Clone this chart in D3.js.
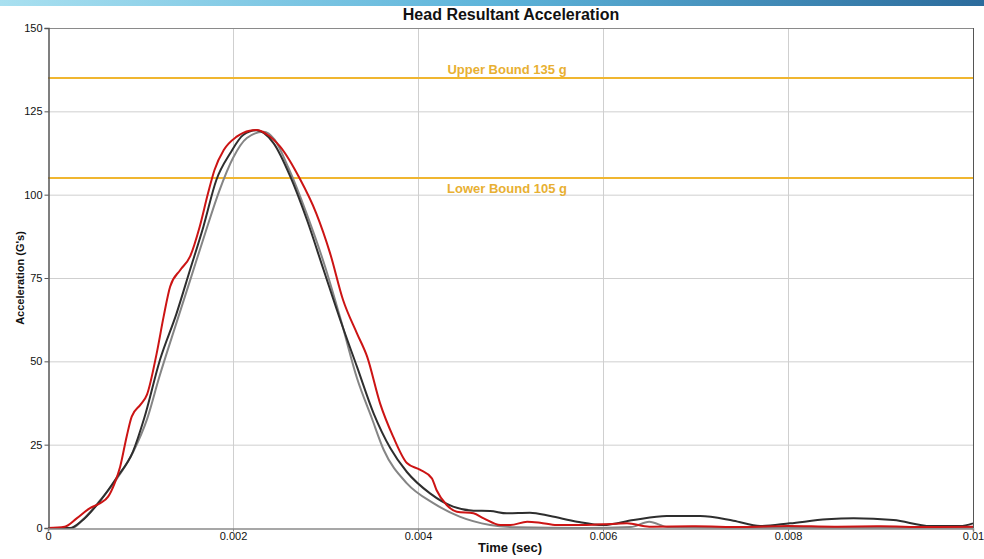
<!DOCTYPE html>
<html>
<head>
<meta charset="utf-8">
<script src="https://cdn.jsdelivr.net/npm/d3@7"></script>
<style>
  body { margin: 0; background: #fff; }
  svg { display: block; font-family: "Liberation Sans", Arial, sans-serif; }
</style>
</head>
<body>
<svg id="chart" width="984" height="559"></svg>
<script>
// time in ms, acceleration in g
const redT = [0, 0.18, 0.31, 0.45, 0.56, 0.65, 0.72, 0.78, 0.85, 0.905, 1.0, 1.07, 1.175, 1.25, 1.32, 1.43, 1.535, 1.64, 1.73, 1.8, 1.9, 2.04, 2.18, 2.26, 2.36, 2.51, 2.72, 2.9, 3.05, 3.19, 3.34, 3.45, 3.59, 3.73, 3.88, 4.02, 4.15, 4.2, 4.31, 4.42, 4.6, 4.71, 4.89, 5.0, 5.18, 5.32, 5.5, 5.79, 6.0, 6.26, 6.5, 7.0, 7.5, 8.0, 8.5, 9.0, 9.5, 10];
const redG = [0, 0.4, 2.9, 5.9, 7.4, 9.4, 13.4, 18.4, 27.4, 33.4, 37, 40, 52.4, 63.4, 72.4, 77.4, 81.4, 90.4, 100.4, 107.4, 113.4, 117.4, 119.2, 119.4, 118.2, 114.4, 104.9, 94.4, 82.4, 68.4, 58.4, 51.4, 37.4, 27.5, 19.5, 17.5, 14.9, 11.4, 6.9, 4.9, 4.4, 2.9, 0.9, 0.9, 1.9, 1.6, 0.9, 0.9, 1.1, 1.4, 0.4, 0.5, 0.3, 0.6, 0.4, 0.5, 0.3, 0.4];

const blackT = [0, 0.24, 0.36, 0.56, 0.74, 0.92, 1.04, 1.21, 1.39, 1.535, 1.68, 1.82, 1.97, 2.11, 2.25, 2.44, 2.62, 2.8, 2.98, 3.16, 3.34, 3.52, 3.7, 3.88, 4.13, 4.38, 4.6, 4.78, 4.96, 5.21, 5.43, 5.72, 6.0, 6.33, 6.69, 7.05, 7.41, 7.7, 8.02, 8.42, 8.71, 9.14, 9.54, 9.86, 10];
const blackG = [0, 0, 2.0, 8.0, 15, 23, 32.9, 50.4, 64.4, 77.4, 90.4, 104.4, 112.4, 117.9, 119.3, 115.4, 105.4, 92.4, 77.4, 62.4, 48.4, 34.4, 24.0, 16.8, 10.4, 6.4, 5.2, 5.1, 4.4, 4.6, 3.6, 1.9, 0.9, 2.4, 3.6, 3.6, 2.2, 0.6, 1.4, 2.6, 2.9, 2.4, 0.6, 0.6, 1.4];

const grayT = [0, 0.26, 0.38, 0.56, 0.74, 0.92, 1.07, 1.2, 1.4, 1.55, 1.7, 1.85, 2.0, 2.15, 2.33, 2.45, 2.6, 2.8, 3.0, 3.17, 3.34, 3.5, 3.63, 3.88, 4.17, 4.45, 4.78, 5.07, 5.8, 6.3, 6.5, 6.7, 7.5, 10];
const grayG = [0, 0, 2.6, 8.2, 14.6, 22.8, 32.6, 45, 62.5, 75.5, 88.5, 101, 111, 117, 118.9, 116.5, 108, 94, 78, 62, 45, 33, 23.4, 13.4, 7.4, 3.4, 0.9, 0.2, 0, 0.3, 1.9, 0.3, 0.1, 0.1];

const upperBound = 135;
const lowerBound = 105;
const xTicks = [0, 0.002, 0.004, 0.006, 0.008, 0.01];
const xTickLabels = ["0", "0.002", "0.004", "0.006", "0.008", "0.01"];
const yTicks = [0, 25, 50, 75, 100, 125, 150];

const svg = d3.select("#chart");
const mLeft = 48, mRight = 973, mTop = 28, mBottom = 528;

// top banner gradient
let grad = svg.append("defs").append("linearGradient").attr("id", "banner");
grad.append("stop").attr("offset", "0%").attr("stop-color", "#a9e0f0");
grad.append("stop").attr("offset", "50%").attr("stop-color", "#5eb4da");
grad.append("stop").attr("offset", "100%").attr("stop-color", "#2b6b9c");
svg.append("rect").attr("x", 0).attr("y", 0).attr("width", 984).attr("height", 6).attr("fill", "url(#banner)");

let x = d3.scaleLinear().domain([0, 0.01]).range([mLeft, mRight]);
let y = d3.scaleLinear().domain([0, 150]).range([mBottom, mTop]);

// grid
svg.append("g")
  .selectAll("line")
  .data(yTicks.filter(d => d > 0 && d < 150))
  .join("line")
  .attr("x1", mLeft).attr("x2", mRight)
  .attr("y1", d => y(d) + 0.5).attr("y2", d => y(d) + 0.5)
  .attr("stroke", "#cfcfcf");
svg.append("g")
  .selectAll("line")
  .data(xTicks.filter(d => d > 0 && d < 0.01))
  .join("line")
  .attr("y1", mTop).attr("y2", mBottom)
  .attr("x1", d => x(d) + 0.5).attr("x2", d => x(d) + 0.5)
  .attr("stroke", "#cfcfcf");

// frame top / right
svg.append("line").attr("x1", mLeft).attr("x2", mRight).attr("y1", mTop + 0.5).attr("y2", mTop + 0.5).attr("stroke", "#8a8a8a");
svg.append("line").attr("x1", mRight + 0.5).attr("x2", mRight + 0.5).attr("y1", mTop).attr("y2", mBottom).attr("stroke", "#555");

// bounds
[upperBound, lowerBound].forEach(b => {
  svg.append("line")
    .attr("x1", mLeft).attr("x2", mRight)
    .attr("y1", y(b)).attr("y2", y(b))
    .attr("stroke", "#f0b630").attr("stroke-width", 2);
});
svg.append("text").attr("x", 507).attr("y", y(upperBound) - 4)
  .attr("text-anchor", "middle").attr("font-size", 13).attr("font-weight", "bold")
  .attr("fill", "#e8b032").text("Upper Bound 135 g");
svg.append("text").attr("x", 507).attr("y", y(lowerBound) + 15)
  .attr("text-anchor", "middle").attr("font-size", 13).attr("font-weight", "bold")
  .attr("fill", "#e8b032").text("Lower Bound 105 g");

// series
function drawSeries(ts, gs, color) {
  let pts = ts.map((t, i) => [t / 1000, gs[i]]);
  let line = d3.line()
    .x(d => x(d[0]))
    .y(d => y(d[1]))
    .curve(d3.curveMonotoneX);
  svg.append("path")
    .datum(pts)
    .attr("d", line)
    .attr("fill", "none")
    .attr("stroke", color)
    .attr("stroke-width", 2)
    .attr("stroke-linejoin", "round");
}
drawSeries(grayT, grayG, "#858585");
drawSeries(blackT, blackG, "#2e2e2e");
drawSeries(redT, redG, "#cc1414");

// axes
let yAxis = d3.axisLeft(y).tickValues(yTicks).tickSize(4).tickPadding(2);
let gy = svg.append("g").attr("transform", `translate(${mLeft + 0.5},0)`).call(yAxis);
gy.select(".domain").attr("stroke", "#555").attr("stroke-width", 1.5);
gy.selectAll(".tick line").attr("stroke", "#555");
gy.selectAll("text").attr("font-size", 11).attr("fill", "#111").attr("font-family", "Liberation Sans, Arial, sans-serif");

let xAxis = d3.axisBottom(x).tickValues(xTicks).tickFormat((d, i) => xTickLabels[i]).tickSize(3).tickPadding(1);
let gx = svg.append("g").attr("transform", `translate(0,${mBottom + 0.5})`).call(xAxis);
gx.select(".domain").attr("stroke", "#8a8a8a").attr("stroke-width", 1.5);
gx.selectAll(".tick line").attr("stroke", "#8a8a8a");
gx.selectAll("text").attr("font-size", 11).attr("fill", "#111").attr("font-family", "Liberation Sans, Arial, sans-serif");

// titles
svg.append("text").attr("x", 511).attr("y", 20).attr("text-anchor", "middle")
  .attr("font-size", 16).attr("font-weight", "bold").attr("fill", "#111")
  .text("Head Resultant Acceleration");
svg.append("text").attr("x", 510).attr("y", 552).attr("text-anchor", "middle")
  .attr("font-size", 13).attr("font-weight", "bold").attr("fill", "#111")
  .text("Time (sec)");
svg.append("text")
  .attr("transform", `translate(24,${(mTop + mBottom) / 2}) rotate(-90)`)
  .attr("text-anchor", "middle")
  .attr("font-size", 11).attr("font-weight", "bold").attr("fill", "#111")
  .text("Acceleration (G's)");
</script>
</body>
</html>
